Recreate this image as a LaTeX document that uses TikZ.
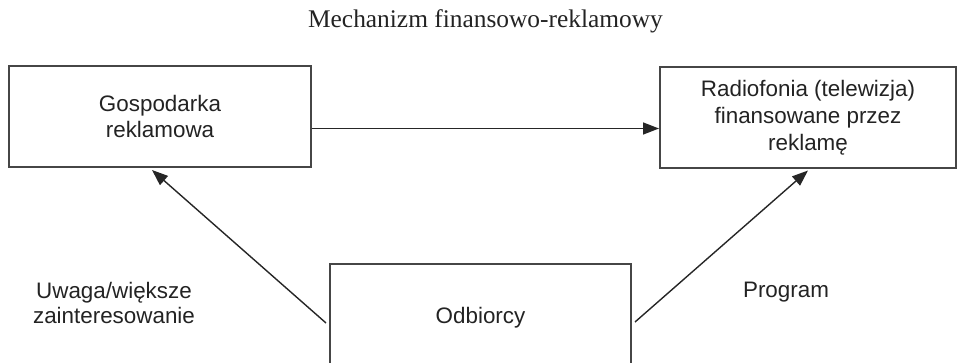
\documentclass[tikz,border=0pt]{standalone}
\usepackage{fontspec}
\setmainfont{Liberation Serif}
\setsansfont{Liberation Sans}
\usepackage{tikz}
\usetikzlibrary{arrows.meta, positioning}
\usepackage{xcolor}
\definecolor{boxgray}{RGB}{70,70,70}
\definecolor{textgray}{RGB}{35,35,35}
\tikzset{whitebox/.style={rectangle, draw=boxgray, line width=1pt, fill=white, align=center, inner sep=0pt, font=\sffamily\fontsize{11.2}{13.4}\selectfont, text=textgray},sidelabel/.style={align=center, inner sep=0pt, font=\sffamily\fontsize{11.2}{12.5}\selectfont, text=textgray}}

\begin{document}
\begin{tikzpicture}[
        x=0.5pt, y=-0.5pt,
        line join=miter,
        flowarrow/.style={-{Triangle[length=8pt, width=6pt]}, line width=0.7pt, color=black!85},
        flowline/.style={line width=0.7pt, color=black!85}
    ]
        % Frame
        \useasboundingbox (0, 0) rectangle (957, 363);
        % Title
        \node[font=\fontsize{12.7}{15}\selectfont, text=textgray] (title) at (485.5, 21) {Mechanizm finansowo-reklamowy};
        % Boxes
        \node[whitebox, minimum width=151pt, minimum height=50.5pt] (gosp) at (160, 116.5) {Gospodarka\\reklamowa};
        \node[whitebox, minimum width=148pt, minimum height=50.5pt] (radio) at (808, 117.5) {Radiofonia (telewizja)\\finansowane przez\\reklamę};
        \node[whitebox, minimum width=150.5pt, minimum height=54pt] (odb) at (480.5, 318) {Odbiorcy};
        % Labels
        \node[sidelabel] (uwaga) at (114, 303) {Uwaga/większe\\zainteresowanie};
        \node[sidelabel] (prog) at (786, 292) {Program};
        % Arrows
        \draw[flowarrow] ([yshift=-6pt]gosp.east) -- ([yshift=-6pt]gosp.east -| radio.west);
        \draw[flowarrow] ([shift={(-3, 5)}]odb.west) -- ([shift={(-8, 2)}]gosp.south);
        \draw[flowarrow] ([shift={(3, 4)}]odb.east) -- ([shift={(0, 1.5)}]radio.south);
    \end{tikzpicture}
\end{document}
